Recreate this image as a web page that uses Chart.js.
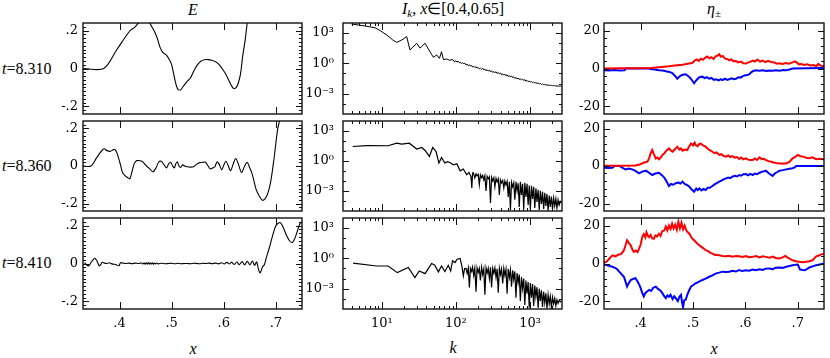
<!DOCTYPE html>
<html lang="en">
<head>
<meta charset="UTF-8">
<title>E, I_k, eta panels</title>
<style>
  body { margin: 0; background: #fff; }
  #fig { position: relative; width: 830px; height: 358px; overflow: hidden; font-family: 'Liberation Serif', serif; color: #000; }
  #fig canvas { position: absolute; }
  .lbl { position: absolute; font-size: 16px; line-height: 1; white-space: nowrap; transform: translate(-50%, -50%); }
  .row { position: absolute; left: 2px; font-size: 16px; line-height: 1; white-space: nowrap; transform: translateY(-50%); }
  sub { font-size: 11px; vertical-align: -3px; }
</style>
<script src="https://cdn.jsdelivr.net/npm/chart.js@4/dist/chart.umd.min.js"></script>
</head>
<body>
<div id="fig">
  <div class="lbl" style="left:193px;top:10px"><i>E</i></div>
  <div class="lbl" style="left:453px;top:10px"><i>I</i><sub><i>k</i></sub>, <i>x</i>∈[0.4,0.65]</div>
  <div class="lbl" style="left:714px;top:10px"><i>η</i><sub>±</sub></div>
  <div class="lbl" style="left:193px;top:349px"><i>x</i></div>
  <div class="lbl" style="left:453px;top:348px"><i>k</i></div>
  <div class="lbl" style="left:714px;top:349px"><i>x</i></div>
</div>
<script>
const times = ['8.310', '8.360', '8.410'];
const xTicks = [0.4, 0.5, 0.6, 0.7];
const eTicks = [-0.2, 0, 0.2];
const kTicks = [10, 100, 1000];
const iTicks = [1e-3, 1, 1e3];
const etaTicks = [-20, 0, 20];

// E(x) at the three times
const E1 = [[0.33,0],[0.370,0],[0.395,0.10],[0.420,0.199],[0.430,0.22],[0.440,0.25],[0.452,0.26],[0.462,0.22],[0.468,0.19],[0.473,0.155],[0.478,0.11],[0.483,0.085],[0.490,0.07],[0.496,0.045],[0.500,0.02],[0.504,-0.03],[0.508,-0.08],[0.512,-0.11],[0.517,-0.113],[0.522,-0.095],[0.529,-0.07],[0.536,-0.05],[0.543,-0.01],[0.549,0.018],[0.556,0.038],[0.563,0.046],[0.570,0.047],[0.577,0.043],[0.585,0.034],[0.591,0.02],[0.598,-0.005],[0.604,-0.03],[0.610,-0.065],[0.615,-0.092],[0.619,-0.105],[0.624,-0.1],[0.628,-0.075],[0.632,-0.03],[0.636,0.06],[0.641,0.15],[0.645,0.24],[0.655,0.42]];
const E2 = [[0.33,0],[0.345,0],[0.356,0.043],[0.364,0.075],[0.370,0.092],[0.376,0.082],[0.382,0.078],[0.387,0.085],[0.391,0.088],[0.395,0.07],[0.398,0.045],[0.402,0.005],[0.406,-0.036],[0.410,-0.05],[0.414,-0.059],[0.418,-0.066],[0.420,-0.068],[0.424,-0.03],[0.428,0.01],[0.433,0.029],[0.438,0.028],[0.443,0.025],[0.448,0.012],[0.452,0],[0.458,-0.015],[0.464,-0.031],[0.470,-0.01],[0.475,0.02],[0.480,0.025],[0.485,0.008],[0.490,-0.01],[0.494,0.01],[0.498,0.02],[0.502,0.0],[0.505,-0.01],[0.508,0.012],[0.511,0.022],[0.514,0.0],[0.517,-0.008],[0.521,0.006],[0.525,0.0],[0.530,-0.004],[0.536,-0.006],[0.542,-0.004],[0.548,0.01],[0.554,0.018],[0.560,0.02],[0.565,0.02],[0.570,0.0],[0.574,-0.015],[0.579,-0.01],[0.583,-0.004],[0.587,0.022],[0.591,0.01],[0.596,-0.02],[0.600,0.005],[0.604,0.025],[0.608,0.005],[0.613,-0.025],[0.618,0.01],[0.623,0.04],[0.628,0.01],[0.634,-0.035],[0.640,0.0],[0.645,0.02],[0.649,-0.005],[0.653,-0.03],[0.657,-0.07],[0.662,-0.125],[0.668,-0.16],[0.674,-0.183],[0.679,-0.175],[0.684,-0.15],[0.690,-0.083],[0.696,0.032],[0.703,0.19],[0.707,0.245],[0.715,0.42]];
const E3 = [[0.333,0.005],[0.337,-0.008],[0.341,-0.012],[0.346,0.008],[0.350,0.022],[0.353,0.028],[0.357,0.012],[0.361,-0.012],[0.364,-0.006],[0.367,0.006],[0.371,0.002],[0.376,0.0],[0.380,0.004],[0.385,-0.002],[0.390,-0.004],[0.395,-0.008],[0.399,-0.012],[0.402,0.004],[0.407,0.002],[0.412,0.0],[0.418,0.002],[0.424,-0.001],[0.430,0.002],[0.436,0.0],[0.442,0.003],[0.445,-0.003],[0.447,0.004],[0.449,-0.004],[0.451,0.004],[0.453,-0.004],[0.455,0.005],[0.457,-0.004],[0.459,0.004],[0.461,-0.003],[0.463,0.004],[0.465,-0.004],[0.467,0.003],[0.469,-0.003],[0.471,0.003],[0.474,-0.002],[0.477,0.0],[0.482,0.001],[0.488,-0.001],[0.494,0.0],[0.500,0.001],[0.506,-0.001],[0.512,0.001],[0.518,-0.001],[0.524,0.0],[0.530,0.0],[0.536,-0.001],[0.542,0.001],[0.548,0.0],[0.554,-0.001],[0.560,0.001],[0.566,0.0],[0.572,0.002],[0.578,-0.001],[0.584,0.002],[0.590,-0.002],[0.596,0.004],[0.601,-0.003],[0.606,0.006],[0.611,-0.002],[0.615,0.007],[0.620,-0.005],[0.625,0.008],[0.630,-0.006],[0.635,0.01],[0.640,-0.008],[0.645,0.012],[0.650,-0.007],[0.655,0.013],[0.659,-0.01],[0.663,0.008],[0.667,-0.035],[0.670,-0.049],[0.674,-0.02],[0.678,-0.005],[0.682,0.035],[0.686,0.07],[0.690,0.11],[0.695,0.16],[0.700,0.2],[0.708,0.216],[0.714,0.19],[0.720,0.15],[0.726,0.12],[0.731,0.11],[0.736,0.13],[0.741,0.17],[0.746,0.21],[0.750,0.22]];

// spectra I_k
const I1 = [[3.9,7.2e3],[5.6,4.9e3],[8.1,3.1e3],[9.5,1.6e3],[11.7,590],[14,200],[15.9,112],[18.6,190],[21.7,410],[24,20],[29.6,91],[32.8,30],[38.3,91],[42.5,25],[49.6,3.8],[55,6.5],[60,3],[64,13.5],[68,2.2],[75,2.6],[83,1.9],[90,2.4],[95,1.4],[100,1.78],[104,1.26],[107,1.62],[111,1.12],[115,1.23],[119,0.89],[123,1.15],[128,0.85],[132,1.0],[137,0.68],[142,0.79],[147,0.56],[152,0.71],[157,0.52],[163,0.59],[168,0.41],[174,0.49],[180,0.37],[187,0.46],[193,0.33],[200,0.38],[207,0.27],[214,0.32],[222,0.25],[230,0.32],[238,0.22],[246,0.26],[255,0.18],[264,0.23],[273,0.17],[283,0.21],[293,0.14],[303,0.18],[314,0.12],[325,0.15],[336,0.115],[348,0.145],[360,0.098],[373,0.12],[386,0.087],[399,0.11],[413,0.072],[428,0.089],[443,0.066],[458,0.083],[474,0.059],[491,0.071],[508,0.048],[526,0.06],[544,0.044],[563,0.055],[583,0.038],[603,0.046],[624,0.032],[646,0.039],[669,0.028],[692,0.035],[716,0.025],[741,0.03],[767,0.022],[794,0.027],[822,0.0195],[851,0.024],[881,0.017],[911,0.0204],[943,0.0151],[976,0.0178],[1010,0.0135],[1046,0.0155],[1082,0.012],[1120,0.0141],[1160,0.011],[1200,0.0126],[1242,0.01],[1286,0.0115],[1331,0.0091],[1377,0.0102],[1426,0.0081],[1475,0.0091],[1527,0.0076],[1581,0.0083],[1636,0.0069],[1693,0.0076],[1753,0.0065],[1814,0.0071],[1877,0.0062],[1943,0.0068],[2011,0.006],[2082,0.0065],[2155,0.0058],[2230,0.006],[2308,0.0055],[2389,0.0058],[2473,0.0054],[2560,0.0056],[2650,0.0054]];
const I2 = [[4.06,26],[6.3,32],[12.2,31],[15.9,56],[18.6,45],[23.5,56],[29.6,14.5],[34.7,21],[38.4,10.5],[43.9,2.7],[48.7,21],[54,8.3],[59,0.59],[64,2.1],[71,0.59],[77,0.8],[83,0.68],[92,0.4],[103,0.5],[114,0.1],[126,0.15],[140,0.041],[150,0.069],[160,0.025],[164,0.002],[168,0.06],[172,0.063],[180,0.02],[187,0.05],[193,0.032],[200,0.045],[207,0.004],[214,0.04],[222,0.02],[230,0.035],[238,0.0126],[246,0.032],[255,0.001],[264,0.028],[273,0.016],[283,0.025],[293,6.3e-5],[303,0.022],[314,0.01],[325,0.02],[336,0.0025],[348,0.018],[360,0.0079],[373,0.016],[386,4e-4],[399,0.0126],[413,0.0063],[428,0.011],[443,0.002],[458,0.01],[474,0.004],[491,0.0089],[508,2.5e-4],[526,0.0079],[544,1.3e-5],[563,0.0071],[583,0.0025],[603,0.0063],[624,1.3e-4],[646,0.0079],[669,0.001],[692,0.0056],[716,2.5e-5],[741,0.0079],[767,4e-4],[794,0.005],[822,1.6e-5],[851,0.0063],[881,2.5e-4],[911,0.005],[943,4e-5],[976,0.0035],[1010,1.3e-5],[1046,0.0032],[1082,1.6e-4],[1120,0.0025],[1160,2e-5],[1200,0.0018],[1242,8e-5],[1286,0.0013],[1331,1.3e-5],[1377,0.001],[1426,5e-5],[1475,8e-4],[1527,1.6e-5],[1581,6.3e-4],[1636,3.2e-5],[1693,5e-4],[1753,1.1e-5],[1814,3.5e-4],[1877,2.5e-5],[1943,2.8e-4],[2011,1.6e-5],[2082,2e-4],[2155,3.2e-5],[2230,1.6e-4],[2308,2e-5],[2389,1.3e-4],[2473,4e-5],[2560,8.9e-5],[2650,7e-5]];
const I3 = [[4.1,0.32],[8.5,0.17],[12.2,0.17],[16.2,0.038],[22.8,0.12],[28,0.0123],[32,0.055],[38.4,0.03],[47,0.3],[52,0.2],[58,0.045],[64,0.17],[71,0.048],[79,0.2],[85,0.055],[90,0.55],[97,0.37],[104,0.8],[114,0.93],[120,0.2],[126,0.018],[131,0.095],[137,0.1],[142,0.032],[147,0.11],[152,0.0013],[157,0.1],[163,0.05],[168,0.13],[174,0.02],[180,0.1],[187,5e-4],[193,0.11],[200,0.04],[207,0.1],[214,0.0063],[222,0.13],[230,0.025],[238,0.089],[246,2.5e-4],[255,0.11],[264,0.035],[273,0.1],[283,0.01],[293,0.13],[303,0.0013],[314,0.1],[325,0.032],[336,0.11],[348,0.0126],[360,0.089],[373,4e-4],[386,0.1],[399,0.025],[413,0.089],[428,0.0032],[443,0.1],[458,0.02],[474,0.079],[491,3.2e-4],[508,0.089],[526,0.0126],[544,0.071],[563,0.0016],[583,0.063],[603,0.0079],[624,0.05],[646,1.3e-4],[669,0.035],[692,0.004],[716,0.025],[741,6.3e-5],[767,0.014],[794,0.001],[822,0.01],[851,2.5e-5],[881,0.0063],[911,3.2e-4],[943,0.0045],[976,1.3e-5],[1010,0.0035],[1046,1.3e-4],[1082,0.0028],[1120,2e-5],[1160,0.002],[1200,1.6e-4],[1242,0.0014],[1286,1.3e-5],[1331,0.001],[1377,6.3e-5],[1426,7e-4],[1475,1.6e-5],[1527,5e-4],[1581,4e-5],[1636,3.5e-4],[1693,1.1e-5],[1753,2.5e-4],[1814,3.2e-5],[1877,1.8e-4],[1943,1.4e-5],[2011,1.4e-4],[2082,3.2e-5],[2155,1.1e-4],[2230,2e-5],[2308,8e-5],[2389,3.5e-5],[2473,7e-5],[2560,5e-5],[2650,6.3e-5]];

// eta plus (red) and eta minus (blue)
const etaP1 = [[0.33,0],[0.36,0.1],[0.39,0.1],[0.42,0.3],[0.44,0.8],[0.454,1.2],[0.465,1.6],[0.48,2],[0.49,2.5],[0.499,3],[0.503,4.2],[0.507,4.8],[0.511,4],[0.515,5.2],[0.519,4.6],[0.523,5.6],[0.527,6.3],[0.531,5.4],[0.535,6],[0.539,5],[0.543,6.4],[0.547,6.8],[0.55,7.5],[0.553,6.3],[0.557,6.5],[0.561,5.2],[0.565,5],[0.569,4.3],[0.573,4.8],[0.577,3.9],[0.582,4],[0.586,3.2],[0.591,3.6],[0.596,2.8],[0.601,2.6],[0.606,3.2],[0.61,3.6],[0.614,4.2],[0.618,3.7],[0.623,4.7],[0.628,3.6],[0.633,4.2],[0.638,3.4],[0.643,4],[0.649,3.4],[0.655,3.2],[0.66,2.5],[0.665,2.8],[0.671,2.4],[0.677,2.9],[0.683,2.5],[0.69,3.2],[0.694,3.8],[0.698,3.2],[0.702,2.2],[0.707,2.4],[0.712,1.9],[0.718,2.2],[0.724,1.6],[0.73,1.8],[0.735,1.2],[0.739,2.4],[0.743,1.6],[0.747,1.2],[0.75,1.3]];
const etaM1 = [[0.33,-0.9],[0.34,-1.1],[0.35,-0.8],[0.36,-1],[0.369,-0.9],[0.372,0],[0.415,0],[0.419,-0.3],[0.427,-0.5],[0.435,-0.9],[0.442,-1.1],[0.448,-1.4],[0.455,-1.8],[0.461,-2.6],[0.466,-4],[0.47,-5.4],[0.474,-4.2],[0.477,-3.7],[0.482,-3.2],[0.486,-3.1],[0.49,-3.8],[0.494,-4.8],[0.498,-6.2],[0.502,-7.8],[0.505,-6.6],[0.508,-5.7],[0.512,-4.6],[0.518,-4.3],[0.522,-5.1],[0.526,-4.6],[0.531,-5.4],[0.535,-5],[0.54,-6],[0.544,-5.7],[0.549,-6.3],[0.553,-5.6],[0.556,-6.1],[0.561,-5.4],[0.565,-6],[0.569,-5.7],[0.574,-5.2],[0.578,-5.6],[0.582,-5.4],[0.587,-4.6],[0.591,-4.8],[0.595,-4],[0.6,-3.6],[0.604,-3.4],[0.607,-3.1],[0.611,-2],[0.615,-1.3],[0.62,-0.9],[0.626,-1.2],[0.633,-0.9],[0.64,-1.3],[0.646,-1],[0.652,-1.2],[0.658,-0.9],[0.665,-1.2],[0.672,-0.8],[0.678,-0.9],[0.684,-0.5],[0.69,0],[0.75,0.2]];
const etaP2 = [[0.33,0.2],[0.36,0.2],[0.39,0.3],[0.398,0.8],[0.403,1.4],[0.408,2],[0.413,2.3],[0.416,4],[0.419,6.7],[0.422,8.5],[0.425,6.5],[0.429,4],[0.432,4.5],[0.435,3.6],[0.439,4.8],[0.442,6],[0.445,6.7],[0.449,8.2],[0.454,9.4],[0.458,8.2],[0.461,7.6],[0.465,8.8],[0.47,10.3],[0.474,8.8],[0.477,9.4],[0.48,8.2],[0.484,8.8],[0.489,8.5],[0.492,10.2],[0.496,12],[0.5,11],[0.503,12.4],[0.505,11.2],[0.509,10.6],[0.512,11.8],[0.515,12],[0.519,11],[0.524,10.3],[0.528,9.2],[0.532,8.5],[0.537,7.6],[0.541,6.8],[0.545,7.2],[0.55,5.9],[0.554,6.3],[0.558,5.4],[0.563,5],[0.567,5.6],[0.571,4.8],[0.575,5.3],[0.58,4.5],[0.584,4.8],[0.588,3.7],[0.592,4.5],[0.596,3.6],[0.601,4.1],[0.605,3.4],[0.609,3.2],[0.614,3.2],[0.618,4],[0.622,3.2],[0.627,4.6],[0.631,3.6],[0.635,3.8],[0.639,3.2],[0.644,2.6],[0.648,2.4],[0.652,2],[0.658,1.6],[0.665,1.4],[0.672,1.4],[0.678,1.4],[0.684,2.2],[0.69,4.1],[0.695,4.8],[0.7,5.9],[0.705,5.2],[0.71,5],[0.716,4.4],[0.722,4.1],[0.728,4.6],[0.735,3.6],[0.742,3.9],[0.75,3.6]];
const etaM2 = [[0.33,-0.9],[0.338,-1.1],[0.346,-0.9],[0.35,0],[0.36,0],[0.364,-0.8],[0.368,-1.4],[0.371,-1.8],[0.377,-1.3],[0.384,-1.8],[0.39,-2.6],[0.397,-3.9],[0.403,-3],[0.41,-2.5],[0.415,-3.4],[0.422,-4.8],[0.428,-4],[0.435,-3.6],[0.441,-5],[0.445,-6.2],[0.448,-7.5],[0.451,-9],[0.454,-10.7],[0.458,-9.6],[0.462,-10],[0.467,-9.2],[0.472,-8.8],[0.476,-9.4],[0.48,-8.3],[0.484,-9.5],[0.489,-10.2],[0.493,-11],[0.497,-12.4],[0.502,-13.7],[0.506,-12],[0.509,-12.8],[0.512,-11.9],[0.516,-13],[0.52,-12.2],[0.524,-12.8],[0.528,-11.6],[0.532,-11.6],[0.537,-10.7],[0.541,-9.8],[0.546,-9],[0.55,-8.3],[0.554,-7.8],[0.558,-7.2],[0.563,-6.6],[0.567,-6.2],[0.571,-6.5],[0.575,-5.7],[0.58,-5.2],[0.584,-5.6],[0.588,-4.8],[0.592,-5.2],[0.596,-4.4],[0.601,-4.3],[0.605,-5],[0.609,-4.2],[0.614,-4.8],[0.618,-4],[0.622,-4.4],[0.627,-3.6],[0.632,-3],[0.636,-2.8],[0.639,-2.5],[0.643,-3.5],[0.647,-4.4],[0.652,-5.3],[0.656,-4],[0.661,-3.2],[0.665,-2.5],[0.671,-2.2],[0.678,-1.8],[0.684,-1.5],[0.69,-1.2],[0.694,-0.8],[0.697,0],[0.75,0]];
const etaP3 = [[0.33,0.5],[0.335,1],[0.34,2.5],[0.346,4.3],[0.352,3.8],[0.357,4.6],[0.362,4.9],[0.365,5.8],[0.368,7],[0.371,9.5],[0.374,12.2],[0.377,11],[0.381,9.6],[0.384,7.5],[0.387,6.1],[0.391,6.8],[0.394,6],[0.397,7.8],[0.4,10],[0.403,13.9],[0.406,15.5],[0.409,13.8],[0.411,16.5],[0.414,14.5],[0.416,13.9],[0.419,15],[0.422,13.2],[0.425,13],[0.428,14.8],[0.431,14.2],[0.435,15.7],[0.438,14.6],[0.441,17],[0.445,17.4],[0.448,19.5],[0.451,17.5],[0.454,20],[0.457,18.2],[0.46,21],[0.463,18.5],[0.466,20.5],[0.469,17.8],[0.472,22],[0.475,18.6],[0.478,21.5],[0.481,18],[0.484,20],[0.487,17.5],[0.49,16.5],[0.493,15.7],[0.496,14.2],[0.499,13],[0.503,12],[0.508,10.6],[0.512,9.6],[0.516,8.8],[0.52,8],[0.524,7],[0.529,6.5],[0.533,5.6],[0.537,5.2],[0.542,4.5],[0.546,4.6],[0.55,4.3],[0.556,4],[0.563,3.8],[0.569,4.1],[0.575,3.6],[0.582,3.9],[0.588,3.8],[0.594,3.4],[0.601,3.9],[0.607,3.3],[0.614,3.5],[0.62,3.9],[0.627,3.2],[0.633,3.8],[0.639,3.5],[0.646,3.1],[0.652,3.7],[0.658,2.9],[0.665,2.6],[0.671,3.2],[0.676,4],[0.68,3.2],[0.685,2.4],[0.69,1.7],[0.696,1.2],[0.703,0.9],[0.71,0.7],[0.716,0.9],[0.722,1.2],[0.728,1.7],[0.732,2.8],[0.735,3.8],[0.74,4.2],[0.745,4.8],[0.75,5.2]];
const etaM3 = [[0.33,-0.5],[0.336,-0.9],[0.341,-1.3],[0.346,-1.7],[0.352,-2.4],[0.356,-3.3],[0.359,-4.3],[0.363,-5.5],[0.368,-7],[0.371,-9.5],[0.374,-12.2],[0.377,-10.5],[0.381,-8.7],[0.385,-8.2],[0.39,-7.8],[0.394,-9.5],[0.397,-11],[0.4,-13],[0.403,-15.5],[0.406,-17.4],[0.409,-15.5],[0.413,-14.6],[0.416,-13.9],[0.42,-14.5],[0.424,-12.8],[0.429,-12.2],[0.433,-13.4],[0.438,-14.3],[0.441,-15.5],[0.445,-17.2],[0.448,-18.3],[0.451,-16.8],[0.454,-17.6],[0.457,-16.5],[0.461,-18.8],[0.464,-17.3],[0.467,-18.3],[0.471,-19.8],[0.474,-17.5],[0.477,-16.5],[0.479,-20.5],[0.481,-23],[0.483,-19.5],[0.486,-19.1],[0.489,-16.5],[0.492,-14.5],[0.496,-12.2],[0.5,-11.5],[0.505,-10.4],[0.51,-9.8],[0.514,-9.2],[0.518,-8.7],[0.524,-8],[0.531,-7],[0.537,-6.3],[0.544,-5.2],[0.55,-4.8],[0.556,-4.3],[0.563,-4.5],[0.569,-4.3],[0.575,-3.8],[0.582,-4.2],[0.588,-3.5],[0.594,-4],[0.601,-3.6],[0.607,-3.8],[0.614,-3.2],[0.62,-3.6],[0.627,-3.1],[0.633,-3.4],[0.639,-2.7],[0.646,-2.6],[0.652,-3],[0.658,-2.2],[0.665,-2.1],[0.671,-2.3],[0.678,-1.7],[0.684,-1.3],[0.69,-0.9],[0.696,-0.6],[0.7,-0.5],[0.704,-3.1],[0.709,-3.4],[0.713,-3.5],[0.718,-2.8],[0.722,-2.1],[0.728,-1.5],[0.735,-0.9],[0.742,-0.5],[0.75,0]];

const fig = document.getElementById('fig');
const colLeft = [83, 343, 604], colW = [219, 219, 220];
const rowTop = [23, 121, 218], rowH = [91, 90, 91];
const rowMid = [69, 166, 263];
const ML = 50, MT = 4, MR = 4;
const tickFont = { family: "'DejaVu Serif', serif", size: 13 };

const supMap = { '-': '⁻', '0': '⁰', '1': '¹', '2': '²', '3': '³', '4': '⁴', '5': '⁵', '6': '⁶', '7': '⁷', '8': '⁸', '9': '⁹' };
const pow10 = v => '10' + String(Math.round(Math.log10(v))).split('').map(c => supMap[c]).join('');
const dotFmt = v => v === 0 ? '0' : String(v).replace('0.', '.');

function steps(a, b, s) {
  const out = [];
  for (let v = a; v <= b + 1e-9; v += s) out.push(+v.toFixed(4));
  return out;
}
const logMinor = [];
[1, 10, 100, 1000].forEach(d => { for (let m = 2; m <= 9; m++) logMinor.push(m * d); });

// inward ticks on all four sides plus the box
const frame = {
  id: 'frame',
  afterDatasetsDraw(chart, args, o) {
    const { ctx, chartArea: a, scales: { x, y } } = chart;
    ctx.save();
    ctx.strokeStyle = '#111';
    ctx.lineWidth = 1;
    ctx.beginPath();
    const xt = (v, len) => {
      const p = Math.round(x.getPixelForValue(v)) + 0.5;
      if (p < a.left + 1 || p > a.right - 1) return;
      ctx.moveTo(p, a.bottom); ctx.lineTo(p, a.bottom - len);
      ctx.moveTo(p, a.top); ctx.lineTo(p, a.top + len);
    };
    const yt = (v, len) => {
      const p = Math.round(y.getPixelForValue(v)) + 0.5;
      if (p < a.top + 1 || p > a.bottom - 1) return;
      ctx.moveTo(a.left, p); ctx.lineTo(a.left + len, p);
      ctx.moveTo(a.right, p); ctx.lineTo(a.right - len, p);
    };
    o.xMajor.forEach(v => xt(v, 7));
    o.xMinor.forEach(v => xt(v, 3));
    o.yMajor.forEach(v => yt(v, 6));
    o.yMinor.forEach(v => yt(v, 3));
    ctx.stroke();
    ctx.lineWidth = 1.4;
    ctx.strokeRect(a.left, a.top, a.right - a.left, a.bottom - a.top);
    ctx.restore();
  }
};

const cols = [
  { xType: 'linear', xMin: 0.33, xMax: 0.75, yType: 'linear', yMin: -0.24, yMax: 0.24,
    xMajor: xTicks, xMinor: [], yMajor: eTicks, yMinor: steps(-0.24, 0.24, 0.02),
    xFmt: dotFmt, yFmt: dotFmt, yPad: 5, tension: 0.3 },
  { xType: 'logarithmic', xMin: 3, xMax: 2700, yType: 'logarithmic', yMin: 1e-5, yMax: 9e3,
    xMajor: kTicks, xMinor: logMinor, yMajor: iTicks, yMinor: [1e-5, 1e-4, 1e-2, 1e-1, 10, 100, 1e4],
    xFmt: pow10, yFmt: pow10, yPad: 9, tension: 0 },
  { xType: 'linear', xMin: 0.33, xMax: 0.75, yType: 'linear', yMin: -24, yMax: 24,
    xMajor: xTicks, xMinor: [], yMajor: etaTicks, yMinor: steps(-24, 24, 4),
    xFmt: dotFmt, yFmt: v => String(v), yPad: 4, tension: 0 }
];

const series = [
  [[{ pts: E1, color: '#000', w: 1.1 }], [{ pts: I1, color: '#000', w: 1 }], [{ pts: etaP1, color: '#ff0000', w: 2 }, { pts: etaM1, color: '#0000ff', w: 2 }]],
  [[{ pts: E2, color: '#000', w: 1.1 }], [{ pts: I2, color: '#000', w: 1.2 }], [{ pts: etaP2, color: '#ff0000', w: 2 }, { pts: etaM2, color: '#0000ff', w: 2 }]],
  [[{ pts: E3, color: '#000', w: 1.1 }], [{ pts: I3, color: '#000', w: 1.2 }], [{ pts: etaP3, color: '#ff0000', w: 2 }, { pts: etaM3, color: '#0000ff', w: 2 }]]
];

function panel(r, ci) {
  const c = cols[ci];
  const last = r === 2;
  const MB = last ? 28 : 4;
  const w = colW[ci], h = rowH[r];
  const cv = document.createElement('canvas');
  cv.width = ML + w + MR;
  cv.height = MT + h + MB;
  cv.style.left = (colLeft[ci] - ML) + 'px';
  cv.style.top = (rowTop[r] - MT) + 'px';
  fig.appendChild(cv);

  new Chart(cv, {
    type: 'line',
    data: {
      datasets: series[r][ci].map(s => ({
        data: s.pts.map(([x, y]) => ({ x, y })),
        borderColor: s.color,
        borderWidth: s.w,
        pointRadius: 0,
        tension: c.tension,
        fill: false,
        clip: 0
      }))
    },
    options: {
      responsive: false,
      animation: false,
      devicePixelRatio: 1,
      layout: { padding: { top: MT, right: MR, left: 0, bottom: 0 } },
      plugins: {
        legend: { display: false },
        tooltip: { enabled: false },
        frame: { xMajor: c.xMajor, xMinor: c.xMinor, yMajor: c.yMajor, yMinor: c.yMinor }
      },
      scales: {
        x: {
          type: c.xType, min: c.xMin, max: c.xMax, bounds: 'data', position: 'bottom',
          grid: { display: false, drawTicks: false },
          border: { display: false },
          ticks: { display: last, font: tickFont, color: '#000', padding: 7, maxRotation: 0, autoSkip: false, callback: c.xFmt },
          afterBuildTicks: s => { s.ticks = c.xMajor.map(v => ({ value: v })); },
          afterFit: s => { s.height = MB; s.paddingLeft = 0; s.paddingRight = 0; }
        },
        y: {
          type: c.yType, min: c.yMin, max: c.yMax, bounds: 'data', position: 'left',
          grid: { display: false, drawTicks: false },
          border: { display: false },
          ticks: { font: tickFont, color: '#000', padding: c.yPad, autoSkip: false, callback: c.yFmt },
          afterBuildTicks: s => { s.ticks = c.yMajor.map(v => ({ value: v })); },
          afterFit: s => { s.width = ML; s.paddingTop = 0; s.paddingBottom = 0; }
        }
      }
    },
    plugins: [frame]
  });
}

for (let r = 0; r < 3; r++) {
  const t = document.createElement('div');
  t.className = 'row';
  t.style.top = rowMid[r] + 'px';
  t.innerHTML = '<i>t</i>=' + times[r];
  fig.appendChild(t);
  for (let ci = 0; ci < 3; ci++) panel(r, ci);
}
</script>
</body>
</html>
